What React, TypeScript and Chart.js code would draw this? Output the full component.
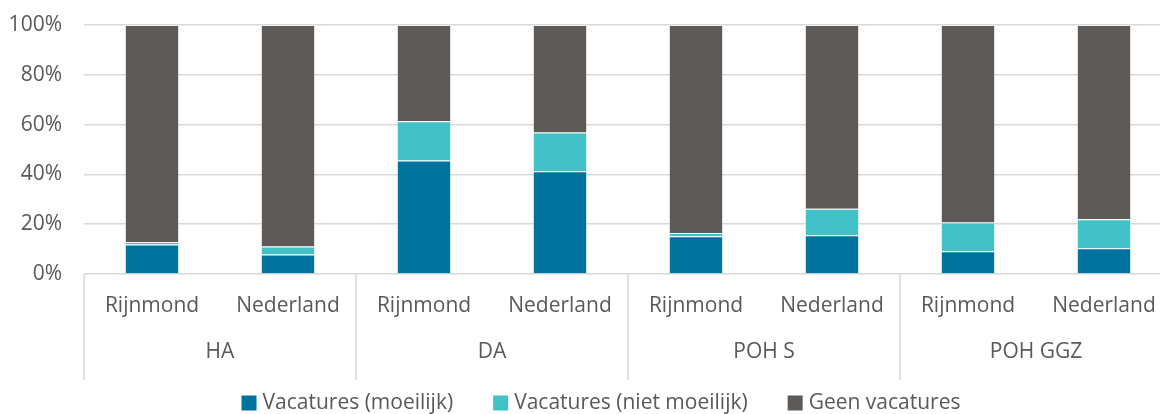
import React, { useEffect, useRef } from "react";
import { Chart, registerables } from "chart.js";

Chart.register(...registerables);

const groups = ["HA", "DA", "POH S", "POH GGZ"];
const regions = ["Rijnmond", "Nederland"];
const categories = groups.flatMap(() => regions);

const moeilijk = [11.8, 7.8, 45.6, 41.3, 15.2, 15.6, 9.1, 10.3];
const nietMoeilijk = [1.1, 3.2, 15.7, 15.5, 1.3, 10.6, 11.6, 11.7];
const geen = [87.1, 89.0, 38.7, 43.2, 83.5, 73.8, 79.3, 78.0];

const yTicks = [0, 20, 40, 60, 80, 100];

const seriesNames = ["Vacatures (moeilijk)", "Vacatures (niet moeilijk)", "Geen vacatures"];
const seriesColors = ["#00729F", "#42C1C6", "#5E5A57"];

const FONT = "'Open Sans', sans-serif";
const TEXT = "#595959";
const GRID = "#D9D9D9";

const groupPlugin = {
  id: "groupAxis",
  afterDraw(chart: any) {
    const ctx = chart.ctx;
    const x = chart.scales.x;
    const area = chart.chartArea;
    const step = x.getPixelForValue(1) - x.getPixelForValue(0);
    const half = step / 2;
    ctx.save();
    ctx.strokeStyle = GRID;
    ctx.lineWidth = 1.5;
    for (let g = 0; g <= groups.length; g++) {
      const idx = g * regions.length;
      const px = idx < categories.length ? x.getPixelForValue(idx) - half : x.getPixelForValue(categories.length - 1) + half;
      ctx.beginPath();
      ctx.moveTo(px, area.bottom);
      ctx.lineTo(px, area.bottom + 106);
      ctx.stroke();
    }
    ctx.fillStyle = TEXT;
    ctx.font = `21px ${FONT}`;
    ctx.textAlign = "center";
    ctx.textBaseline = "middle";
    groups.forEach((g, i) => {
      const a = x.getPixelForValue(i * regions.length);
      const b = x.getPixelForValue(i * regions.length + regions.length - 1);
      ctx.fillText(g, (a + b) / 2, area.bottom + 78);
    });
    const box = 15;
    const gapBox = 6;
    const gapItem = 40;
    const widths = seriesNames.map((n) => ctx.measureText(n).width);
    const total = widths.reduce((s, w) => s + box + gapBox + w, 0) + gapItem * (seriesNames.length - 1);
    let lx = chart.width / 2 - total / 2;
    const ly = chart.height - 11;
    ctx.textAlign = "left";
    seriesNames.forEach((n, i) => {
      ctx.fillStyle = seriesColors[i];
      ctx.fillRect(lx, ly - box / 2, box, box);
      ctx.fillStyle = TEXT;
      ctx.fillText(n, lx + box + gapBox, ly);
      lx += box + gapBox + widths[i] + gapItem;
    });
    ctx.restore();
  },
};

export default function App() {
  const ref = useRef<HTMLCanvasElement | null>(null);
  useEffect(() => {
    if (!ref.current) return;
    Chart.defaults.font.family = FONT;
    const chart = new Chart(ref.current, {
      type: "bar",
      data: {
        labels: categories,
        datasets: [moeilijk, nietMoeilijk, geen].map((d, i) => ({
          label: seriesNames[i],
          data: d,
          backgroundColor: seriesColors[i],
          borderColor: "rgba(255,255,255,0.35)",
          borderWidth: 1,
          categoryPercentage: 1,
          barPercentage: 0.4,
        })),
      },
      options: {
        responsive: false,
        maintainAspectRatio: false,
        animation: false,
        layout: { padding: { left: 0, top: 25, right: 30, bottom: 0 } },
        plugins: { legend: { display: false }, tooltip: { enabled: false } },
        scales: {
          x: {
            stacked: true,
            grid: { display: false, drawTicks: false },
            border: { display: false },
            ticks: {
              font: { size: 21, family: FONT },
              color: TEXT,
              padding: 19,
              maxRotation: 0,
              autoSkip: false,
            },
            afterFit: (s: any) => {
              s.height = 140;
              s.paddingTop = 0;
              s.paddingBottom = 0;
            },
          },
          y: {
            stacked: true,
            min: 0,
            max: 100,
            afterBuildTicks: (s: any) => {
              s.ticks = yTicks.map((v) => ({ value: v }));
            },
            ticks: {
              font: { size: 21, family: FONT },
              color: TEXT,
              padding: 22,
              callback: (v: any) => `${v}%`,
            },
            grid: { color: GRID, lineWidth: 1.5, drawTicks: false },
            border: { display: false },
            afterFit: (s: any) => {
              s.width = 84;
              s.paddingTop = 0;
              s.paddingBottom = 0;
            },
          },
        },
      },
      plugins: [groupPlugin],
    });
    return () => chart.destroy();
  }, []);
  return (
    <div
      style={{
        position: "fixed",
        left: 0,
        top: 0,
        width: 1160,
        height: 414,
        overflow: "hidden",
        background: "#fff",
      }}
    >
      <canvas ref={ref} width={1202} height={414} style={{ display: "block" }} />
    </div>
  );
}
